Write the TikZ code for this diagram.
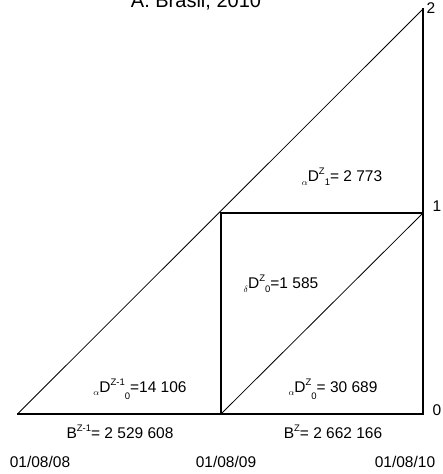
\documentclass[tikz,border=0pt]{standalone}
\usepackage{fontspec}
\setmainfont{Liberation Sans}
\newcommand\lo[2][-0.45ex]{\raisebox{#1}{\fontsize{9.5}{10}\selectfont #2}}
\newcommand\hi[1]{\raisebox{0.85ex}{\fontsize{9.5}{10}\selectfont #1}}
\tikzset{
  frame/.style={line width=1.4pt, line cap=rect},
  diag/.style={line width=0.8pt},
  lab/.style={inner sep=0pt, font=\fontsize{15.5}{17}\selectfont},
  ttl/.style={inner sep=0pt, font=\fontsize{20}{22}\selectfont, anchor=base},
}
\begin{document}
\begin{tikzpicture}[x=1pt,y=-1pt]
\useasboundingbox (0,0) rectangle (443,474);
% corner coordinates
\coordinate (A) at (17.5,414);
\coordinate (M) at (221,414);
\coordinate (R) at (423,414);
\coordinate (T) at (423,9);
\coordinate (S) at (221,213);
\coordinate (Q) at (423,213);
% lines
\draw[frame] (A) -- (R);
\draw[frame] (R) -- (T);
\draw[frame] (M) -- (S) -- (Q);
\draw[diag] (A) -- (T);
\draw[diag] (M) -- (Q);
% title
\node[ttl] (title) at (196,7.5) {A. Brasil, 2010};
% axis labels
\node[lab] (l2) at (431,8) {2};
\node[lab] (l1) at (437,206) {1};
\node[lab] (l0) at (437,410) {0};
% inner labels
\node[lab] (d1) at (342,177) {\lo{$\alpha$}D\hi{Z}\lo{1}= 2 773};
\node[lab] (dd) at (281,284) {\lo{$\delta$}D\hi{Z}\lo{0}=1 585};
\node[lab] (d0) at (333,389) {\lo{$\alpha$}D\hi{Z}\lo[-0.9ex]{0}= 30 689};
\node[lab] (dm) at (140,389) {\lo{$\alpha$}D\hi{Z-1}\lo[-0.9ex]{0}=14 106};
% base labels
\node[lab] (b1) at (120,432) {B\hi{Z-1}= 2 529 608};
\node[lab] (b2) at (333,432) {B\hi{Z}= 2 662 166};
% dates
\node[lab] (t0) at (40,462) {01/08/08};
\node[lab] (t1) at (226,462) {01/08/09};
\node[lab] (t2) at (405,462) {01/08/10};
\end{tikzpicture}
\end{document}
